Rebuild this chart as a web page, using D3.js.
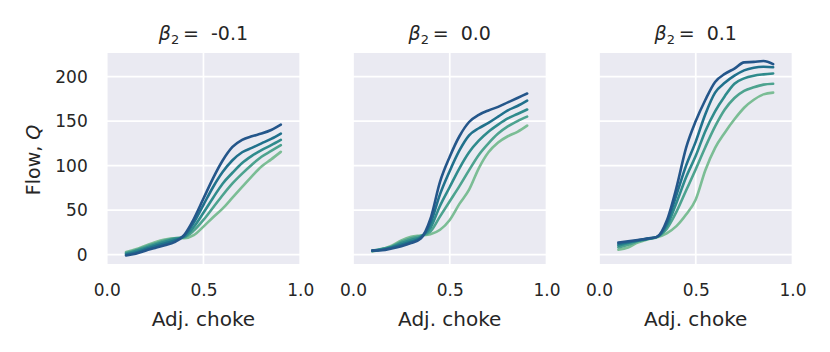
<!DOCTYPE html>
<html>
<head>
<meta charset="utf-8">
<script src="https://cdn.jsdelivr.net/npm/d3@7"></script>
<style>
  body { margin: 0; background: #fff; }
  text { font-family: "DejaVu Sans", sans-serif; fill: #262626; }
</style>
</head>
<body>
<svg id="chart" width="830" height="352"></svg>
<script>
// adjusted choke positions shared by every curve
var choke = [0.10, 0.15, 0.20, 0.25, 0.30, 0.35, 0.40, 0.45, 0.50, 0.55, 0.60, 0.65, 0.70, 0.75, 0.80, 0.85, 0.90];

var betaLabels = ["-0.1", "0.0", "0.1"];
var xTicks = [0.0, 0.5, 1.0];
var yTicks = [0, 50, 100, 150, 200];

// flow per curve, darkest first
var flowNeg = [
	[-1, 1, 4.5, 7.5, 10.5, 14, 22, 40, 63, 86, 106, 121, 129, 133, 136, 140, 146],
	[0, 2.5, 6, 9.5, 12.5, 16, 21, 36, 56, 76, 93, 106, 115, 120, 125, 130, 136],
	[1, 4, 7.5, 11, 14.5, 17.5, 20, 31, 47, 64, 80, 92, 103, 111, 117.5, 123, 129],
	[2, 5, 9, 12.5, 16, 18.5, 19.5, 27, 39, 53, 67, 80, 91, 101, 110, 116.5, 123],
	[3, 6, 10, 14, 17, 18.5, 18.5, 22, 31.5, 42, 52, 64, 76, 88, 99, 107, 115.5]
];
var flowZero = [
	[4.5, 5, 7, 9.5, 13, 18, 40, 82, 110, 133, 149, 157, 162, 166, 171, 176, 181],
	[4.5, 5.5, 8, 11, 14.5, 19, 35, 68, 94, 117, 134, 142, 148, 155, 162, 167, 173],
	[4.5, 6, 8.5, 13, 16.5, 20, 30, 55, 76, 97, 115, 128, 138, 146, 153, 158, 163],
	[4, 6.5, 9, 14.5, 18.5, 21, 26, 43, 60, 77, 95, 112, 125, 136, 144, 150, 155],
	[3.5, 6, 10, 16, 20, 21.5, 23, 28, 39, 57, 73, 97, 115, 126, 133, 138, 145]
];
var flowPos = [
	[13.5, 15, 16.5, 18, 20, 38, 75, 120, 150, 174, 194, 203, 209, 216, 216.5, 217.5, 214],
	[12, 14, 16, 18, 20, 35, 67, 100, 127, 158, 182, 193, 201, 207, 210, 211, 210.5],
	[10, 13, 15.5, 17.5, 20, 32, 58, 87, 111, 139, 161, 178, 192, 198, 201, 202.5, 203.5],
	[8, 11, 15, 17.5, 20, 29, 48, 72, 96, 121, 144, 163, 176, 184, 188, 191, 192],
	[5.5, 8, 13.5, 17, 19.5, 24, 32, 45, 62, 95, 120, 137, 152, 165, 174, 180, 182]
];

var colours = ["#24568a", "#20718c", "#2f8b8c", "#4da38f", "#7bbd95"];

var panels = [flowNeg, flowZero, flowPos];
var panelLeft = [106.7, 353, 599];
var panelWidth = 193.5;
var panelTop = 53, panelBottom = 264;

var svg = d3.select("#chart");

var y = d3.scaleLinear()
	.domain([-10.5, 226.5])
	.range([panelBottom, panelTop]);

panels.forEach(function(series, p){
	var x = d3.scaleLinear()
		.domain([0, 1])
		.range([panelLeft[p], panelLeft[p] + panelWidth]);

	var g = svg.append("g");

	g.append("rect")
		.attr("x", panelLeft[p])
		.attr("y", panelTop)
		.attr("width", panelWidth)
		.attr("height", panelBottom - panelTop)
		.attr("fill", "#eaeaf2");

	// white grid
	g.selectAll(".gx")
		.data(xTicks)
		.enter().append("line")
		.attr("x1", function(d){ return x(d); })
		.attr("x2", function(d){ return x(d); })
		.attr("y1", panelTop)
		.attr("y2", panelBottom)
		.attr("stroke", "#fff")
		.attr("stroke-width", 1.7);
	g.selectAll(".gy")
		.data(yTicks)
		.enter().append("line")
		.attr("x1", panelLeft[p])
		.attr("x2", panelLeft[p] + panelWidth)
		.attr("y1", function(d){ return y(d); })
		.attr("y2", function(d){ return y(d); })
		.attr("stroke", "#fff")
		.attr("stroke-width", 1.7);

	var xAxis = d3.axisBottom(x)
		.tickValues(xTicks)
		.tickFormat(d3.format(".1f"))
		.tickSize(0)
		.tickPadding(20);
	var gx = g.append("g")
		.attr("transform", "translate(0," + panelBottom + ")")
		.call(xAxis);
	gx.select(".domain").remove();
	gx.selectAll("text").attr("font-size", 17).attr("font-family", "DejaVu Sans");

	if (p === 0){
		var yAxis = d3.axisLeft(y)
			.tickValues(yTicks)
			.tickSize(0)
			.tickPadding(19);
		var gy = g.append("g")
			.attr("transform", "translate(" + panelLeft[p] + ",0)")
			.call(yAxis);
		gy.select(".domain").remove();
		gy.selectAll("text").attr("font-size", 17).attr("font-family", "DejaVu Sans");

		var yl = g.append("text")
			.attr("transform", "translate(40,160) rotate(-90)")
			.attr("text-anchor", "middle")
			.attr("font-size", 19);
		yl.append("tspan").text("Flow, ");
		yl.append("tspan").attr("font-style", "italic").text("Q");
	}

	g.append("text")
		.attr("x", x(0.5))
		.attr("y", 326)
		.attr("text-anchor", "middle")
		.attr("font-size", 20)
		.text("Adj. choke");

	var title = g.append("text")
		.attr("x", x(0.5))
		.attr("y", 39.5)
		.attr("text-anchor", "middle")
		.attr("font-size", 19);
	title.append("tspan").attr("font-style", "italic").text("\u03b2");
	title.append("tspan").attr("font-size", 13).attr("dy", 4).text("2");
	title.append("tspan").attr("dy", -4).text("\u2009=\u00a0\u00a0" + betaLabels[p]);

	var line = d3.line()
		.curve(d3.curveMonotoneX)
		.x(function(d, i){ return x(choke[i]); })
		.y(function(d){ return y(d); });

	// lightest first so the dark curves sit on top
	for (var k = series.length - 1; k >= 0; k--){
		g.append("path")
			.datum(series[k])
			.attr("fill", "none")
			.attr("stroke", colours[k])
			.attr("stroke-width", 2.6)
			.attr("stroke-linejoin", "round")
			.attr("stroke-linecap", "round")
			.attr("d", line);
	}
});
</script>
</body>
</html>
